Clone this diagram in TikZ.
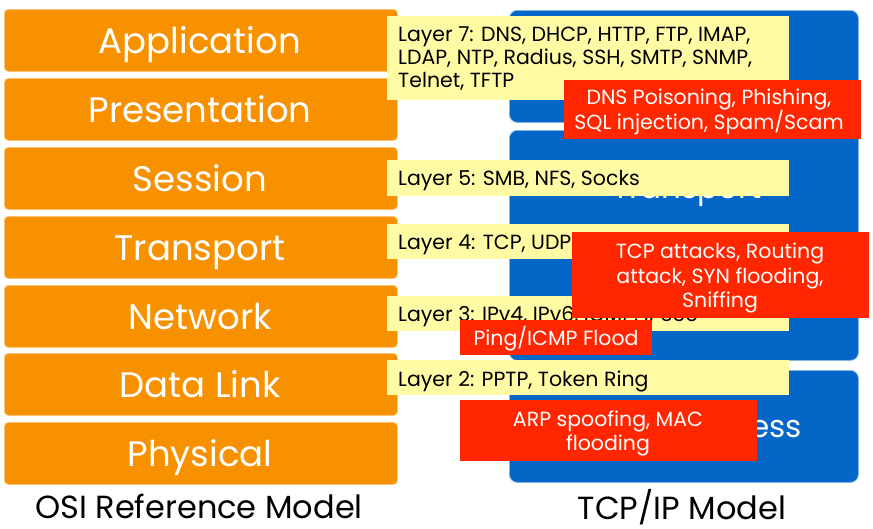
\documentclass[tikz,border=0pt]{standalone}
\usepackage{fontspec}
\setmainfont{Poppins}
\definecolor{osiorange}{RGB}{247,145,0}
\definecolor{tcpblue}{RGB}{4,103,200}
\definecolor{protoyellow}{RGB}{255,251,165}
\definecolor{attackred}{RGB}{255,38,0}
\begin{document}
\begin{tikzpicture}[x=1pt,y=-1pt,
  osibox/.style={fill=osiorange, draw=osiorange!55!white, line width=0.8pt, rounded corners=4pt, minimum width=393pt, minimum height=62pt, inner sep=0pt, anchor=north west},
  ositext/.style={anchor=base, inner sep=0pt, text=white, font=\fontsize{35.5}{42}\selectfont},
  bluebox/.style={fill=tcpblue, draw=tcpblue!50!white, line width=0.8pt, rounded corners=8pt, inner sep=0pt, anchor=north west, minimum width=349pt},
  bluetext/.style={inner sep=0pt, text=white, font=\fontsize{31}{38}\selectfont},
  protobox/.style={fill=protoyellow, inner sep=0pt, anchor=north west, minimum width=402pt},
  prototext/.style={anchor=base west, inner sep=0pt, text=black, font=\fontsize{20.5}{23}\selectfont},
  attackbox/.style={fill=attackred, inner sep=0pt, anchor=north west},
  attacktext/.style={anchor=base, inner sep=0pt, text=white, font=\fontsize{20.5}{24.5}\selectfont},
  titletext/.style={anchor=base, inner sep=0pt, text=black, font=\fontsize{32}{38}\selectfont}]
\useasboundingbox (0,0) rectangle (873,528);
\fill[white] (0,0) rectangle (873,528);
% OSI layers
\node[osibox] (app) at (4,9) {};
\node[osibox] (pres) at (4,78) {};
\node[osibox] (sess) at (4,147) {};
\node[osibox] (trans) at (4,216) {};
\node[osibox] (net) at (4,285) {};
\node[osibox] (dl) at (4,353) {};
\node[osibox] (phys) at (4,422) {};
\node[ositext] (appt) at (200,53) {Application};
\node[ositext] (prest) at (200,122) {Presentation};
\node[ositext] (sesst) at (200,191) {Session};
\node[ositext] (transt) at (200,260) {Transport};
\node[ositext] (nett) at (200,329) {Network};
\node[ositext] (dlt) at (200,397) {Data Link};
\node[ositext] (physt) at (200,466) {Physical};
\node[titletext] (osil) at (199,518) {OSI Reference Model};
% TCP/IP blocks
\node[bluebox, minimum height=112pt] (tapp) at (509,10) {};
\node[bluebox, minimum height=230pt] (ttrans) at (509,130) {};
\node[bluebox, minimum height=112pt] (tna) at (509,370) {};
\node[bluetext, anchor=base] (ttranst) at (687,198) {Transport};
\node[bluetext, anchor=base east] (tnat) at (802,437) {Network Access};
\node[titletext] (tcpl) at (682,519) {TCP/IP Model};
% protocol boxes
\node[protobox, minimum height=84pt] (p7) at (387,16) {};
\node[protobox, minimum height=36pt] (p5) at (387,160) {};
\node[protobox, minimum height=35pt] (p4) at (387,224) {};
\node[protobox, minimum height=35pt] (p3) at (387,296) {};
\node[protobox, minimum height=35pt] (p2) at (387,360) {};
\node[prototext] (p7a) at (398,41) {Layer 7: DNS, DHCP, HTTP, FTP, IMAP,};
\node[prototext] (p7b) at (398,64) {LDAP, NTP, Radius, SSH, SMTP, SNMP,};
\node[prototext] (p7c) at (398,87) {Telnet, TFTP};
\node[prototext] (p5t) at (398,185) {Layer 5: SMB, NFS, Socks};
\node[prototext] (p4t) at (398,249) {Layer 4: TCP, UDP};
\node[prototext] (p3t) at (398,321) {Layer 3: IPv4, IPv6, ICMP, IPSec};
\node[prototext] (p2t) at (398,386) {Layer 2: PPTP, Token Ring};
% attacks
\node[attackbox, minimum width=297pt, minimum height=59pt] (a7) at (564,80) {};
\node[attackbox, minimum width=297pt, minimum height=86pt] (a4) at (572,232) {};
\node[attackbox, minimum width=192pt, minimum height=35pt] (a3) at (460,320) {};
\node[attackbox, minimum width=297pt, minimum height=61pt] (a2) at (460,400) {};
\node[attacktext] (a7t1) at (709,104) {DNS Poisoning, Phishing,};
\node[attacktext] (a7t2) at (709,129) {SQL injection, Spam/Scam};
\node[attacktext] (a4t1) at (720,258) {TCP attacks, Routing};
\node[attacktext] (a4t2) at (720,283) {attack, SYN flooding,};
\node[attacktext] (a4t3) at (720,307) {Sniffing};
\node[attacktext] (a3t) at (556,345) {Ping/ICMP Flood};
\node[attacktext] (a2t1) at (608,426) {ARP spoofing, MAC};
\node[attacktext] (a2t2) at (608,450) {flooding};
\end{tikzpicture}
\end{document}
